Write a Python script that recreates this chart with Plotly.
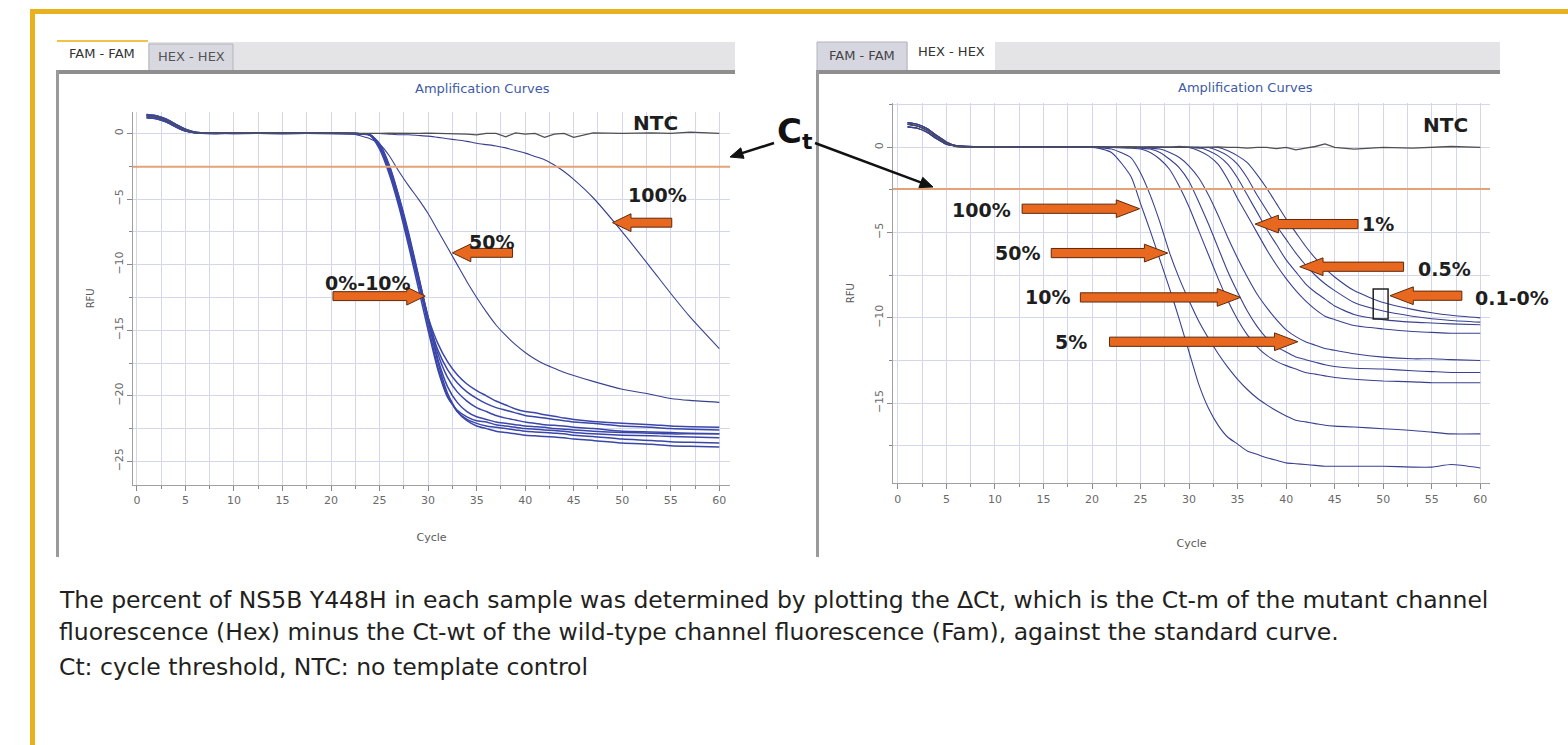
import math
import plotly.graph_objects as go

W, H = 1568, 745

# ---------------- data ----------------
CYCLES = [1, 2, 3, 4, 5, 6, 8, 10, 15, 20, 22, 24, 25, 26, 27, 28, 29, 30, 31, 32,
          33, 34, 35, 36, 37, 38, 39, 40, 41, 42, 43, 44, 45, 47, 50, 53, 55, 57, 60]

# early cycles (1..20), shared shapes of the baseline drift
BASE_1 = [1.35, 1.25, 1.0, 0.6, 0.25, 0.05, 0.0, 0.02, 0.0, 0.02]
BASE_2 = [1.2, 1.12, 0.88, 0.5, 0.18, 0.08, 0.03, 0.0, 0.03, 0.0]
BASE_3 = [1.45, 1.35, 1.1, 0.7, 0.32, 0.1, 0.04, 0.03, 0.02, 0.03]

# FAM channel, cycles 22..60
FAM_NTC = [0.0, 0.02, 0.0, 0.02, 0.0, 0.03, 0.0, 0.02, 0.0, 0.03, 0.0, -0.05, -0.1, 0.0, 0.0,
           -0.25, 0.05, -0.05, 0.0, -0.3, -0.05, 0.0, -0.3, 0.05, 0.0, 0.05, 0.0, 0.1, 0.0]
FAM_0_10_A = [0.0, -0.1, -1.0, -2.8, -5.3, -8.2, -11.3, -14.6, -17.8, -20.0, -21.2, -21.8, -22.1, -22.3,
              -22.4, -22.5, -22.6, -22.7, -22.75, -22.8, -22.85, -22.9, -23.0, -23.1, -23.3, -23.4, -23.5, -23.55, -23.6]
FAM_0_10_B = [0.0, -0.1, -0.8, -2.4, -4.8, -7.6, -10.8, -14.1, -17.4, -19.8, -21.2, -21.9, -22.3, -22.5,
              -22.7, -22.8, -22.9, -23.0, -23.05, -23.1, -23.15, -23.2, -23.3, -23.4, -23.6, -23.7, -23.8, -23.85, -23.9]
FAM_0_10_C = [0.0, -0.15, -1.2, -3.1, -5.6, -8.6, -11.8, -15.0, -18.0, -20.1, -21.1, -21.6, -21.9, -22.0,
              -22.2, -22.3, -22.4, -22.5, -22.55, -22.6, -22.65, -22.7, -22.8, -22.9, -23.0, -23.05, -23.1, -23.15, -23.2]
FAM_0_10_D = [0.0, -0.1, -0.9, -2.6, -5.0, -7.9, -11.0, -14.2, -17.2, -19.3, -20.5, -21.2, -21.6, -21.8,
              -22.0, -22.1, -22.2, -22.3, -22.35, -22.4, -22.5, -22.55, -22.6, -22.7, -22.8, -22.85, -22.9, -22.9, -22.9]
FAM_0_10_E = [0.0, -0.1, -0.9, -2.7, -5.1, -8.0, -11.1, -14.1, -16.5, -18.0, -19.0, -19.7, -20.2, -20.6,
              -20.9, -21.1, -21.3, -21.5, -21.6, -21.7, -21.8, -21.9, -22.0, -22.1, -22.3, -22.4, -22.5, -22.55, -22.6]
FAM_0_10_F = [0.0, -0.1, -1.0, -2.9, -5.4, -8.3, -11.3, -14.0, -16.0, -17.4, -18.4, -19.1, -19.6, -20.0,
              -20.4, -20.7, -21.0, -21.2, -21.3, -21.45, -21.55, -21.7, -21.8, -21.95, -22.1, -22.2, -22.3, -22.35, -22.4]
FAM_0_10_G = [0.0, -0.1, -0.8, -2.5, -4.9, -7.8, -10.9, -14.0, -16.8, -18.6, -19.7, -20.4, -20.9, -21.2,
              -21.5, -21.7, -21.85, -22.0, -22.1, -22.2, -22.25, -22.3, -22.4, -22.5, -22.7, -22.75, -22.8, -22.85, -22.9]
FAM_50 = [0.0, -0.4, -0.8, -1.7, -2.9, -4.0, -5.0, -6.1, -7.4, -8.7, -10.0, -11.3, -12.5, -13.6,
          -14.6, -15.4, -16.1, -16.7, -17.2, -17.6, -17.9, -18.2, -18.45, -18.9, -19.5, -19.9, -20.2, -20.35, -20.5]
FAM_100 = [0.0, 0.0, 0.0, -0.05, -0.1, -0.1, -0.15, -0.2, -0.3, -0.4, -0.5, -0.6, -0.75, -0.85,
           -0.95, -1.1, -1.3, -1.5, -1.75, -2.0, -2.4, -2.9, -3.5, -4.9, -7.5, -10.3, -12.2, -14.0, -16.4]

# HEX channel, cycles 22..60
HEX_NTC = [0.0, 0.02, 0.0, 0.03, 0.0, 0.0, 0.05, 0.0, -0.05, 0.0, 0.03, 0.0, 0.0, -0.05, 0.0,
           0.0, -0.08, 0.0, -0.15, -0.05, 0.05, 0.2, 0.0, -0.1, 0.0, -0.05, 0.0, 0.05, 0.0]
HEX_100 = [-0.3, -1.7, -3.3, -4.9, -6.6, -8.3, -10.1, -12.0, -13.9, -15.3, -16.3, -17.0, -17.4, -17.8,
           -18.0, -18.2, -18.35, -18.5, -18.55, -18.6, -18.65, -18.7, -18.7, -18.7, -18.7, -18.75, -18.75, -18.6, -18.8]
HEX_50 = [-0.1, -0.6, -1.5, -2.8, -4.4, -6.2, -7.7, -9.0, -10.2, -11.2, -12.1, -12.9, -13.6, -14.2,
          -14.7, -15.1, -15.45, -15.75, -16.0, -16.1, -16.2, -16.3, -16.35, -16.4, -16.5, -16.6, -16.7, -16.8, -16.8]
HEX_10 = [0.0, -0.05, -0.1, -0.3, -0.7, -1.3, -2.3, -3.5, -4.9, -6.3, -7.7, -9.0, -10.1, -11.0,
          -11.7, -12.2, -12.55, -12.8, -13.0, -13.2, -13.3, -13.4, -13.5, -13.6, -13.7, -13.75, -13.8, -13.8, -13.8]
HEX_10B = [0.0, 0.0, -0.05, -0.1, -0.3, -0.7, -1.2, -2.0, -3.2, -4.5, -5.9, -7.3, -8.5, -9.6,
           -10.5, -11.2, -11.7, -12.0, -12.3, -12.45, -12.6, -12.75, -12.85, -12.95, -13.0, -13.1, -13.15, -13.2, -13.2]
HEX_5 = [0.0, 0.0, 0.0, -0.05, -0.1, -0.3, -0.6, -1.1, -1.8, -2.8, -4.0, -5.3, -6.5, -7.6,
         -8.6, -9.4, -10.1, -10.7, -11.1, -11.4, -11.6, -11.8, -11.9, -12.1, -12.3, -12.4, -12.4, -12.45, -12.5]
HEX_1 = [0.0, 0.0, 0.0, 0.0, 0.0, 0.0, 0.0, 0.0, -0.2, -0.5, -1.0, -1.9, -3.0, -4.0,
         -5.0, -6.0, -6.9, -7.7, -8.4, -9.0, -9.5, -9.9, -10.1, -10.45, -10.65, -10.8, -10.85, -10.9, -10.9]
HEX_05 = [0.0, 0.0, 0.0, 0.0, 0.0, 0.0, 0.0, 0.0, 0.0, -0.2, -0.5, -1.0, -1.8, -2.8,
          -3.8, -4.8, -5.7, -6.6, -7.3, -8.0, -8.5, -8.9, -9.3, -9.8, -10.1, -10.25, -10.3, -10.35, -10.4]
HEX_01 = [0.0, 0.0, 0.0, 0.0, 0.0, 0.0, 0.0, 0.0, 0.0, 0.0, -0.2, -0.5, -1.0, -1.8,
          -2.8, -3.7, -4.6, -5.4, -6.2, -6.9, -7.5, -8.0, -8.4, -9.1, -9.6, -9.9, -10.05, -10.15, -10.25]
HEX_00 = [0.0, 0.0, 0.0, 0.0, 0.0, 0.0, 0.0, 0.0, 0.0, 0.0, 0.0, -0.2, -0.5, -0.9,
          -1.6, -2.4, -3.3, -4.2, -5.0, -5.8, -6.5, -7.1, -7.6, -8.4, -9.1, -9.5, -9.7, -9.85, -10.0]

FAM_THRESHOLD = -2.53
HEX_THRESHOLD = -2.44

X_TICKS = [0, 5, 10, 15, 20, 25, 30, 35, 40, 45, 50, 55, 60]

# ---------------- styles ----------------
GRID = '#d3d7ec'
GROUP_COLOR = '#3a46a8'
CURVE_COLOR = '#39418f'
NTC_COLOR = '#4f4f4f'
THR_COLOR = '#e3a277'
ARROW_FILL = '#e8681f'
ARROW_EDGE = '#5e2a0c'
FONT = 'DejaVu Sans'


def px(x):
    return x / W


def py(y):
    return 1 - y / H


fig = go.Figure()


def add_curve(xa, ya, base, tail, color, width, shape='spline'):
    fig.add_trace(go.Scatter(
        x=CYCLES, y=base + tail, xaxis=xa, yaxis=ya, mode='lines',
        line=dict(color=color, width=width, shape=shape, smoothing=0.6),
        hoverinfo='skip', showlegend=False))


# left panel (FAM)
add_curve('x', 'y', BASE_2, FAM_100, CURVE_COLOR, 1.1)
add_curve('x', 'y', BASE_3, FAM_50, CURVE_COLOR, 1.1)
for base, tail in [(BASE_1, FAM_0_10_A), (BASE_2, FAM_0_10_B), (BASE_3, FAM_0_10_C),
                   (BASE_1, FAM_0_10_D), (BASE_2, FAM_0_10_E), (BASE_3, FAM_0_10_F),
                   (BASE_1, FAM_0_10_G)]:
    add_curve('x', 'y', base, tail, GROUP_COLOR, 1.5)
add_curve('x', 'y', BASE_1, FAM_NTC, NTC_COLOR, 1.3, 'linear')

# right panel (HEX)
for base, tail in [(BASE_1, HEX_100), (BASE_2, HEX_50), (BASE_3, HEX_10), (BASE_1, HEX_10B),
                   (BASE_2, HEX_5), (BASE_3, HEX_1), (BASE_1, HEX_05), (BASE_2, HEX_01),
                   (BASE_3, HEX_00)]:
    add_curve('x2', 'y2', base, tail, CURVE_COLOR, 1.1)
add_curve('x2', 'y2', BASE_1, HEX_NTC, NTC_COLOR, 1.3, 'linear')


def xaxis(domain, rng, anchor, standoff):
    return dict(domain=domain, range=rng, anchor=anchor, tickmode='array', tickvals=X_TICKS,
                title=dict(text='Cycle', standoff=standoff,
                           font=dict(family=FONT, size=11, color='#5a5a5a')),
                showgrid=True, gridcolor=GRID, gridwidth=1, zeroline=False,
                showline=True, linecolor='#a0a0a0', linewidth=1,
                ticks='outside', ticklen=5, tickcolor='#888888',
                tickfont=dict(family=FONT, size=11, color='#6a6a6a'),
                minor=dict(tick0=0, dtick=2.5, showgrid=True, gridcolor=GRID, gridwidth=1,
                           ticks='outside', ticklen=3, tickcolor='#888888'))


def yaxis(domain, rng, anchor, standoff):
    return dict(domain=domain, range=rng, anchor=anchor, tick0=0, dtick=5,
                title=dict(text='RFU', standoff=standoff,
                           font=dict(family=FONT, size=10, color='#5a5a5a')),
                showgrid=True, gridcolor=GRID, gridwidth=1, zeroline=False,
                showline=True, linecolor='#a0a0a0', linewidth=1,
                ticks='outside', ticklen=5, tickcolor='#888888', tickangle=-90,
                tickfont=dict(family=FONT, size=11, color='#6a6a6a'),
                minor=dict(tick0=0, dtick=2.5, showgrid=True, gridcolor=GRID, gridwidth=1,
                           ticks='outside', ticklen=3, tickcolor='#888888'))


shapes = []


def rect(x0, y0, x1, y1, fill, line_color=None, lw=0):
    shapes.append(dict(type='rect', xref='paper', yref='paper', x0=px(x0), x1=px(x1),
                       y0=py(y0), y1=py(y1), fillcolor=fill,
                       line=dict(color=line_color or fill, width=lw), layer='below'))


# yellow frame
rect(30, 9, W, 14, '#e9b11c')
rect(30, 9, 35, H, '#e9b11c')

# left panel frame / tabs
rect(57, 42, 735, 71, '#e4e4e7')
rect(149, 44, 233, 71, '#d8d8e1', '#b4b4bd', 1)
rect(57, 40, 148, 71, '#ffffff')
rect(57, 40, 148, 42, '#f0c24a')
rect(57, 70, 735, 74, '#8e8e8e')
rect(56, 70, 59, 557, '#9a9a9a')

# right panel frame / tabs
rect(817, 42, 1500, 71, '#e4e4e7')
rect(817, 42, 907, 71, '#d6d6e0', '#b4b4bd', 1)
rect(908, 40, 995, 71, '#ffffff')
rect(817, 70, 1500, 74, '#8e8e8e')
rect(816, 70, 819, 557, '#9a9a9a')

# thresholds
shapes.append(dict(type='line', xref='x domain', yref='y', x0=0, x1=1,
                   y0=FAM_THRESHOLD, y1=FAM_THRESHOLD, line=dict(color=THR_COLOR, width=2)))
shapes.append(dict(type='line', xref='x2 domain', yref='y2', x0=0, x1=1,
                   y0=HEX_THRESHOLD, y1=HEX_THRESHOLD, line=dict(color=THR_COLOR, width=2)))


def block_arrow(xr, yr, x_tail, x_tip, y, h, hh, hl):
    d = 1 if x_tip > x_tail else -1
    xb = x_tip - d * hl
    path = (f"M {x_tail},{y - h} L {xb},{y - h} L {xb},{y - hh} L {x_tip},{y} "
            f"L {xb},{y + hh} L {xb},{y + h} L {x_tail},{y + h} Z")
    shapes.append(dict(type='path', xref=xr, yref=yr, path=path, fillcolor=ARROW_FILL,
                       line=dict(color=ARROW_EDGE, width=1)))


# left arrows
block_arrow('x', 'y', 20.2, 29.7, -12.4, 0.34, 0.68, 1.9)
block_arrow('x', 'y', 38.7, 32.5, -9.1, 0.34, 0.68, 1.9)
block_arrow('x', 'y', 55.1, 49.0, -6.8, 0.34, 0.68, 1.9)
# right arrows
block_arrow('x2', 'y2', 12.8, 24.9, -3.6, 0.27, 0.52, 2.4)
block_arrow('x2', 'y2', 15.8, 27.8, -6.2, 0.27, 0.52, 2.4)
block_arrow('x2', 'y2', 18.8, 35.3, -8.8, 0.27, 0.52, 2.4)
block_arrow('x2', 'y2', 21.8, 41.2, -11.4, 0.27, 0.52, 2.4)
block_arrow('x2', 'y2', 47.4, 36.8, -4.5, 0.27, 0.52, 2.4)
block_arrow('x2', 'y2', 52.1, 41.4, -7.0, 0.27, 0.52, 2.4)
block_arrow('x2', 'y2', 58.1, 50.7, -8.7, 0.27, 0.52, 2.4)
# 0.1-0% box
shapes.append(dict(type='rect', xref='x2', yref='y2', x0=48.97, x1=50.5, y0=-8.3, y1=-10.06,
                   line=dict(color='#222222', width=1.5), fillcolor='rgba(0,0,0,0)'))


def line_arrow(tail, tip, head_len=13, head_w=11, width=2.5, color='#111111'):
    dx, dy = tip[0] - tail[0], tip[1] - tail[1]
    ln = math.hypot(dx, dy)
    ux, uy = dx / ln, dy / ln
    bx, by = tip[0] - ux * head_len, tip[1] - uy * head_len
    nx, ny = -uy * head_w / 2, ux * head_w / 2
    shapes.append(dict(type='line', xref='paper', yref='paper', x0=px(tail[0]), y0=py(tail[1]),
                       x1=px(bx + ux * 2), y1=py(by + uy * 2), line=dict(color=color, width=width)))
    path = (f"M {px(tip[0])},{py(tip[1])} L {px(bx + nx)},{py(by + ny)} "
            f"L {px(bx - nx)},{py(by - ny)} Z")
    shapes.append(dict(type='path', xref='paper', yref='paper', path=path, fillcolor=color,
                       line=dict(color=color, width=1)))


line_arrow((774, 143), (730, 157))
line_arrow((815, 143), (933, 187))

annotations = []


def text(x, y, s, size, color='#1e1e1e', angle=0, xanchor='center', bold=False):
    annotations.append(dict(xref='paper', yref='paper', x=px(x), y=py(y),
                            text=f'<b>{s}</b>' if bold else s, showarrow=False,
                            xanchor=xanchor, yanchor='middle', textangle=angle,
                            font=dict(family=FONT, size=size, color=color)))


# tabs
text(102, 53, 'FAM - FAM', 13, '#333333')
text(191, 57, 'HEX - HEX', 13, '#555555')
text(862, 55, 'FAM - FAM', 13, '#444444')
text(951, 52, 'HEX - HEX', 13, '#333333')
# titles
text(482, 89, 'Amplification Curves', 13, '#3d5aa6')
text(1245, 87, 'Amplification Curves', 13, '#3d5aa6')
# labels
text(655, 123, 'NTC', 20, bold=True)
text(1445, 125, 'NTC', 20, bold=True)
text(657, 195, '100%', 19, bold=True)
text(491, 242, '50%', 19, bold=True)
text(368, 283, '0%-10%', 19, bold=True)
text(981, 210, '100%', 19, bold=True)
text(1017, 253, '50%', 19, bold=True)
text(1047, 297, '10%', 19, bold=True)
text(1071, 342, '5%', 19, bold=True)
text(1378, 224, '1%', 19, bold=True)
text(1444, 269, '0.5%', 19, bold=True)
text(1512, 298, '0.1-0%', 19, bold=True)
# Ct (C with subscript t)
text(789, 131, 'C', 34, '#111111', bold=True)
text(808, 141, 't', 22, '#111111', bold=True)

# caption
CAPTION = [
    'The percent of NS5B Y448H in each sample was determined by plotting the \u2206Ct, which is the Ct-m of the mutant channel',
    'fluorescence (Hex) minus the Ct-wt of the wild-type channel fluorescence (Fam), against the standard curve.',
    'Ct: cycle threshold, NTC: no template control',
]
for yy, line in zip([600, 632, 667], CAPTION):
    text(57, yy, line, 23.5, '#231f20', xanchor='left')

fig.update_layout(
    width=W, height=H, autosize=False,
    margin=dict(l=0, r=0, t=0, b=0),
    paper_bgcolor='white', plot_bgcolor='white',
    showlegend=False,
    xaxis=xaxis([px(133), px(730)], [-0.4, 61.1], 'y', 27),
    yaxis=yaxis([py(485), py(111.7)], [-26.8, 1.66], 'x', 16),
    xaxis2=xaxis([px(893), px(1490)], [-0.5, 61.0], 'y2', 34),
    yaxis2=yaxis([py(483.3), py(103)], [-19.7, 2.6], 'x2', 16),
    shapes=shapes,
    annotations=annotations,
)

fig.write_html('out.html')
